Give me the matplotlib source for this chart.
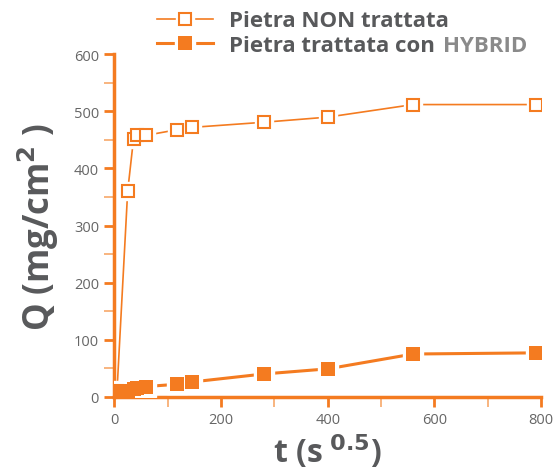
import numpy as np
import matplotlib
matplotlib.use("Agg")
import matplotlib.pyplot as plt
from matplotlib.ticker import MultipleLocator
from matplotlib.legend_handler import HandlerTuple

# time in s^0.5, same sampling for both stones
t_values = [5, 25, 36, 42, 59, 118, 145, 280, 400, 560, 790]
q_untreated = [10, 360, 452, 458, 458, 468, 472, 481, 490, 512, 512]
q_hybrid = [10, 11, 13, 15, 18, 22, 26, 40, 49, 75, 77]

label_untreated = "Pietra NON trattata"
label_hybrid = "Pietra trattata con"
brand = "HYBRID"

ORANGE = "#f47b20"
LIGHT_ORANGE = "#f7a86a"
TEXT_GREY = "#58595b"

plt.rcParams['font.family'] = ['Open Sans', 'DejaVu Sans']

fig = plt.figure(figsize=(5.55, 4.77), dpi=100)
ax = fig.add_axes([0.206, 0.166, 0.769, 0.718])

# line, then a white halo under each marker to break the line, then marker
l1, = ax.plot(t_values, q_untreated, color=ORANGE, lw=1.2, zorder=2)
h1, = ax.plot(t_values, q_untreated, ls='none', marker='s', ms=13,
              mfc='white', mec='white', zorder=3)
m1, = ax.plot(t_values, q_untreated, ls='none', marker='s', ms=8.5,
              mfc='white', mec=ORANGE, mew=1.5, zorder=4)

l2, = ax.plot(t_values, q_hybrid, color=ORANGE, lw=2.2, zorder=2)
h2, = ax.plot(t_values, q_hybrid, ls='none', marker='s', ms=14,
              mfc='white', mec='white', zorder=3)
m2, = ax.plot(t_values, q_hybrid, ls='none', marker='s', ms=9.5,
              mfc=ORANGE, mec=ORANGE, mew=0, zorder=5)

ax.set_xlim(0, 800)
ax.set_ylim(0, 600)
ax.xaxis.set_major_locator(MultipleLocator(200))
ax.xaxis.set_minor_locator(MultipleLocator(100))
ax.yaxis.set_major_locator(MultipleLocator(100))
ax.yaxis.set_minor_locator(MultipleLocator(50))

for side in ['top', 'right']:
    ax.spines[side].set_visible(False)
for side in ['left', 'bottom']:
    ax.spines[side].set_color(ORANGE)
    ax.spines[side].set_linewidth(2.5)

ax.tick_params(which='major', direction='out', length=7, width=2,
               color=ORANGE, labelcolor='#666666', labelsize=10.5, pad=4)
ax.tick_params(which='minor', direction='out', length=7, width=1.2,
               color=LIGHT_ORANGE)
ax.patch.set_visible(False)

ax.set_ylabel(r"Q (mg/cm$^{\mathbf{2}}$ )", fontsize=25, fontweight='bold',
              color=TEXT_GREY, labelpad=9)
ax.set_xlabel(r"t (s$^{\mathbf{\ 0.5}}$)", fontsize=23, fontweight='bold',
              color=TEXT_GREY, labelpad=4)

leg = fig.legend([(l1, h1, m1), (l2, h2, m2)], [label_untreated, label_hybrid],
                 handler_map={tuple: HandlerTuple(ndivide=1, pad=0)},
                 loc='upper left', bbox_to_anchor=(0.247, 1.018),
                 frameon=False, numpoints=1, handlelength=2.5,
                 handletextpad=0.75, labelspacing=0.15,
                 prop={'size': 16, 'weight': 'bold'})
for txt in leg.get_texts():
    txt.set_color(TEXT_GREY)

# brand name drawn right after the second legend label
fig.canvas.draw()
bb = leg.get_texts()[1].get_window_extent(fig.canvas.get_renderer())
inv = fig.transFigure.inverted()
x0, y0 = inv.transform((bb.x1, bb.y0))
fig.text(x0 + 0.014, y0, brand, fontsize=16, fontweight='bold',
         color='#8a8a8a', va='bottom')

fig.savefig("out.png", dpi=100)
